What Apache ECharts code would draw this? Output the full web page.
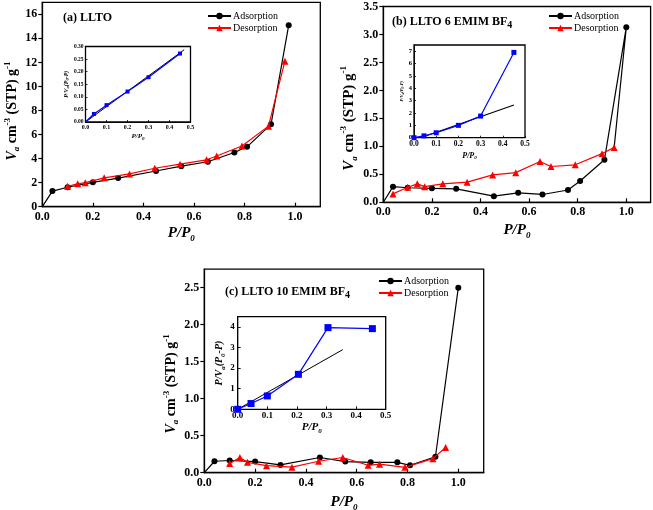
<!DOCTYPE html>
<html><head><meta charset="utf-8">
<script src="https://cdn.jsdelivr.net/npm/echarts@6/dist/echarts.min.js"></script>
<style>html,body{margin:0;padding:0;background:#fff}#c{width:653px;height:510px}</style>
</head><body><div id="c"></div>
<script>
// ---------- data ----------
// Panel (a) LLTO
const adsA_x = [0, 0.04, 0.1, 0.2, 0.3, 0.45, 0.55, 0.655, 0.76, 0.81, 0.905, 0.975];
const adsA_y = [0, 1.3, 1.62, 2.03, 2.38, 2.97, 3.37, 3.74, 4.51, 4.98, 6.85, 15.1];
const desA_x = [0.1, 0.14, 0.17, 0.245, 0.345, 0.445, 0.545, 0.65, 0.69, 0.79, 0.895, 0.96];
const desA_y = [1.7, 1.9, 2.0, 2.4, 2.73, 3.2, 3.54, 3.9, 4.22, 5.05, 6.7, 12.1];
// Panel (b) LLTO 6 EMIM BF4 (last adsorption point closes the loop back to 0.95)
const adsB_x = [0, 0.04, 0.1, 0.2, 0.3, 0.455, 0.555, 0.655, 0.76, 0.81, 0.91, 1.0, 0.95];
const adsB_y = [0, 0.28, 0.26, 0.25, 0.24, 0.11, 0.17, 0.14, 0.22, 0.38, 0.76, 3.13, 0.98];
const desB_x = [0.04, 0.1, 0.14, 0.17, 0.245, 0.345, 0.45, 0.545, 0.645, 0.69, 0.79, 0.9, 0.95];
const desB_y = [0.15, 0.27, 0.33, 0.28, 0.33, 0.36, 0.49, 0.53, 0.73, 0.64, 0.67, 0.87, 0.98];
// Panel (c) LLTO 10 EMIM BF4
const adsC_x = [0, 0.04, 0.1, 0.2, 0.3, 0.455, 0.555, 0.655, 0.76, 0.81, 0.91, 1.0];
const adsC_y = [0, 0.155, 0.165, 0.15, 0.105, 0.205, 0.15, 0.14, 0.14, 0.1, 0.215, 2.5];
const desC_x = [0.1, 0.14, 0.17, 0.245, 0.345, 0.45, 0.545, 0.645, 0.69, 0.79, 0.9, 0.95];
const desC_y = [0.125, 0.205, 0.14, 0.095, 0.075, 0.155, 0.205, 0.10, 0.115, 0.072, 0.19, 0.34];
// Insets (BET plots)
const betA_x = [0, 0.04, 0.1, 0.2, 0.3, 0.45];
const betA_y = [0, 0.032, 0.067, 0.121, 0.178, 0.272];
const fitA_x = [0, 0.47];
const fitA_y = [0, 0.287];
const betB_x = [0, 0.045, 0.1, 0.2, 0.3, 0.45];
const betB_y = [0, 0.15, 0.4, 1.0, 1.75, 6.9];
const fitB_x = [0.03, 0.45];
const fitB_y = [0, 2.65];
const betC_x = [0, 0.045, 0.1, 0.205, 0.305, 0.455];
const betC_y = [0, 0.28, 0.65, 1.7, 3.97, 3.92];
const fitC_x = [0, 0.355];
const fitC_y = [0, 2.9];
const legendNames = ['Adsorption', 'Desorption'];

// ---------- helpers ----------
const FONT = "'Liberation Serif','Times New Roman',serif";
const zip = (xs, ys) => xs.map((x, i) => [x, ys[i]]);
function noOriginSymbol(pts, hideIdx) {
  return pts.map((p, i) => hideIdx.includes(i) ? { value: p, symbol: 'none' } : p);
}
function richSet(size, subSize) {
  const lh = Math.round(size * 1.3);
  return {
    n: { fontFamily: FONT, fontSize: size, fontWeight: 'bold', color: '#000', lineHeight: lh },
    i: { fontFamily: FONT, fontSize: size, fontWeight: 'bold', fontStyle: 'italic', color: '#000', lineHeight: lh },
    s: { fontFamily: FONT, fontSize: subSize, fontWeight: 'bold', color: '#000', lineHeight: subSize, verticalAlign: 'bottom' },
    si: { fontFamily: FONT, fontSize: subSize, fontWeight: 'bold', fontStyle: 'italic', color: '#000', lineHeight: subSize, verticalAlign: 'bottom' },
    p: { fontFamily: FONT, fontSize: subSize, fontWeight: 'bold', color: '#000', lineHeight: subSize, verticalAlign: 'top' }
  };
}
function fmt(dec, max) {
  return v => (Math.abs(v - max) < 1e-9 && max !== undefined && false) ? '' : v.toFixed(dec);
}
function mkX(gi, o) {
  return {
    gridIndex: gi, type: 'value', min: o.min, max: o.max, interval: o.interval,
    axisLine: { show: true, onZero: false, lineStyle: { color: '#000', width: o.lw } },
    axisTick: { show: true, inside: true, length: o.tick, lineStyle: { color: '#000', width: o.lw * 0.9 } },
    axisLabel: {
      fontFamily: FONT, fontSize: o.fs, fontWeight: 'bold', color: '#000', margin: o.margin,
      showMaxLabel: o.showMax, formatter: v => v.toFixed(o.dec)
    },
    splitLine: { show: false },
    name: o.name, nameLocation: 'middle', nameGap: o.gap,
    nameTextStyle: { rich: o.rich, padding: o.pad || 0 }
  };
}
function mkY(gi, o) {
  return {
    gridIndex: gi, type: 'value', min: o.min, max: o.max, interval: o.interval,
    axisLine: { show: true, onZero: false, lineStyle: { color: '#000', width: o.lw } },
    axisTick: { show: true, inside: o.inside, length: o.tick, lineStyle: { color: '#000', width: o.lw * 0.9 } },
    axisLabel: {
      fontFamily: FONT, fontSize: o.fs, fontWeight: 'bold', color: '#000', margin: o.margin,
      showMaxLabel: o.showMax, formatter: v => v.toFixed(o.dec)
    },
    splitLine: { show: false },
    name: o.name, nameLocation: 'middle', nameGap: o.gap, nameRotate: 90,
    nameTextStyle: { rich: o.rich, padding: o.pad || 0 }
  };
}
const mainYName = '{i|V}{si|a}{n| cm}{p|-3}{n| (STP) g}{p|-1}';
const mainXName = '{i|P/P}{si|0}';
const betYName = '{i|P/V}{si|a}{i|(P}{si|0}{i|-P)}';
const betXName = '{i|P/P}{si|0}';

function grid(l, t, w, h, bg) {
  return { left: l, top: t, width: w, height: h, show: true, borderColor: '#000', borderWidth: 1.3,
    backgroundColor: bg, containLabel: false, outerBoundsMode: 'none' };
}
function adsSeries(xi, pts) {
  return { name: 'Adsorption', type: 'line', xAxisIndex: xi, yAxisIndex: xi, data: pts,
    symbol: 'circle', symbolSize: 6, itemStyle: { color: '#000' },
    lineStyle: { color: '#000', width: 1.2 }, z: 3 };
}
function desSeries(xi, pts) {
  return { name: 'Desorption', type: 'line', xAxisIndex: xi, yAxisIndex: xi, data: pts,
    symbol: 'triangle', symbolSize: 7, itemStyle: { color: '#ff0000' },
    lineStyle: { color: '#ff0000', width: 1.2 }, z: 4 };
}
function betSeries(xi, pts, size, showOrigin) {
  return { name: 'BET', type: 'line', xAxisIndex: xi, yAxisIndex: xi,
    data: showOrigin ? pts : noOriginSymbol(pts, [0]),
    symbol: 'rect', symbolSize: size, itemStyle: { color: '#0000ff' },
    lineStyle: { color: '#0000ff', width: 1.2 }, z: 6 };
}
function fitSeries(xi, pts, w) {
  return { name: 'Fit', type: 'line', xAxisIndex: xi, yAxisIndex: xi, data: pts,
    symbol: 'none', lineStyle: { color: '#000', width: w }, z: 5 };
}
function legend(l, t) {
  return { data: legendNames, orient: 'vertical', left: l, top: t, itemWidth: 23, itemHeight: 8,
    itemGap: 0, padding: 0, selectedMode: false,
    textStyle: { fontFamily: FONT, fontSize: 10, color: '#000', lineHeight: 12, padding: [0, 0, 0, -3] } };
}
function title(txt, l, t) {
  return { text: txt, left: l, top: t, padding: 0,
    textStyle: { rich: {
      n: { fontFamily: FONT, fontSize: 12, fontWeight: 'bold', color: '#000', lineHeight: 16 },
      s: { fontFamily: FONT, fontSize: 10, fontWeight: 'bold', color: '#000', lineHeight: 10, verticalAlign: 'bottom' }
    } } };
}

const chart = echarts.init(document.getElementById('c'), null, { renderer: 'canvas' });
const option = {
  animation: false,
  backgroundColor: '#fff',
  title: [
    title('{n|(a) LLTO}', 63, 10),
    title('{n|(b) LLTO 6 EMIM BF}{s|4}', 392, 14),
    title('{n|(c) LLTO 10 EMIM BF}{s|4}', 225, 284)
  ],
  legend: [legend(207, 10), legend(548, 10), legend(378, 275)],
  grid: [
    grid(42.3, 2.3, 278, 204.4, 'transparent'),
    grid(383.3, 6.5, 267.3, 195.8, 'transparent'),
    grid(204.3, 269.2, 279.4, 203.5, 'transparent'),
    grid(85.5, 46.5, 105, 75.5, '#fff'),
    grid(414, 45, 111, 92.7, '#fff'),
    grid(237.7, 316.7, 148, 92.6, '#fff')
  ],
  xAxis: [
    mkX(0, { min: 0, max: 1.1, interval: 0.2, lw: 1.3, tick: 4, fs: 12, margin: 4, showMax: false, dec: 1, name: mainXName, gap: 16, rich: richSet(15, 9) }),
    mkX(1, { min: 0, max: 1.1, interval: 0.2, lw: 1.3, tick: 4, fs: 12, margin: 4, showMax: false, dec: 1, name: mainXName, gap: 18, rich: richSet(15, 9) }),
    mkX(2, { min: 0, max: 1.1, interval: 0.2, lw: 1.3, tick: 4, fs: 12, margin: 4, showMax: false, dec: 1, name: mainXName, gap: 19, rich: richSet(15, 9) }),
    mkX(3, { min: 0, max: 0.5, interval: 0.1, lw: 0.9, tick: 2, fs: 6, margin: 2, showMax: true, dec: 1, name: betXName, gap: 10, rich: richSet(7, 5) }),
    mkX(4, { min: 0, max: 0.5, interval: 0.1, lw: 0.9, tick: 2, fs: 7.5, margin: 2, showMax: true, dec: 1, name: betXName, gap: 13, rich: richSet(8, 5) }),
    mkX(5, { min: 0, max: 0.5, interval: 0.1, lw: 1.0, tick: 3, fs: 9, margin: 2, showMax: true, dec: 1, name: betXName, gap: 11, rich: richSet(11, 7) })
  ],
  yAxis: [
    mkY(0, { min: 0, max: 17, interval: 2, lw: 1.3, tick: 4, inside: false, fs: 12, margin: 5, showMax: false, dec: 0, name: mainYName, gap: 21, rich: richSet(14, 9), pad: [0, 13, 0, 0] }),
    mkY(1, { min: 0, max: 3.5, interval: 0.5, lw: 1.3, tick: 4, inside: false, fs: 12, margin: 5, showMax: true, dec: 1, name: mainYName, gap: 23, rich: richSet(15, 9), pad: [0, 28, 0, 0] }),
    mkY(2, { min: 0, max: 2.75, interval: 0.5, lw: 1.3, tick: 4, inside: false, fs: 12, margin: 5, showMax: false, dec: 1, name: mainYName, gap: 19, rich: richSet(14, 9), pad: [0, 26, 0, 0] }),
    mkY(3, { min: 0, max: 0.3, interval: 0.05, lw: 0.9, tick: 2, inside: true, fs: 5.5, margin: 2, showMax: true, dec: 2, name: betYName, gap: 15, rich: richSet(6, 4.5) }),
    mkY(4, { min: 0, max: 7.5, interval: 1, lw: 0.9, tick: 2, inside: true, fs: 6.5, margin: 2, showMax: false, dec: 0, name: betYName, gap: 9, rich: richSet(4.5, 3.5) }),
    mkY(5, { min: 0, max: 4.5, interval: 1, lw: 1.0, tick: 3, inside: true, fs: 9, margin: 3, showMax: false, dec: 0, name: betYName, gap: 9, rich: richSet(10, 7) })
  ],
  series: [
    adsSeries(0, noOriginSymbol(zip(adsA_x, adsA_y), [0])),
    desSeries(0, zip(desA_x, desA_y)),
    adsSeries(1, noOriginSymbol(zip(adsB_x, adsB_y), [0, adsB_x.length - 1])),
    desSeries(1, zip(desB_x, desB_y)),
    adsSeries(2, noOriginSymbol(zip(adsC_x, adsC_y), [0])),
    desSeries(2, zip(desC_x, desC_y)),
    fitSeries(3, zip(fitA_x, fitA_y), 1),
    betSeries(3, zip(betA_x, betA_y), 4, false),
    fitSeries(4, zip(fitB_x, fitB_y), 1.2),
    betSeries(4, zip(betB_x, betB_y), 5, true),
    fitSeries(5, zip(fitC_x, fitC_y), 1),
    betSeries(5, zip(betC_x, betC_y), 7, true)
  ]
};
chart.setOption(option);
</script>
</body></html>
